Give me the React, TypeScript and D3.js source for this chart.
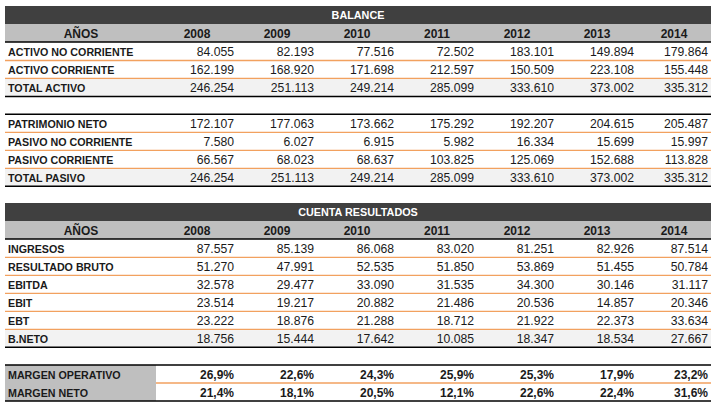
import React from "react";
import * as d3 from "d3";

const years = ["2008", "2009", "2010", "2011", "2012", "2013", "2014"];

const activoNoCorriente = [84055, 82193, 77516, 72502, 183101, 149894, 179864];
const activoCorriente = [162199, 168920, 171698, 212597, 150509, 223108, 155448];
const totalActivo = [246254, 251113, 249214, 285099, 333610, 373002, 335312];

const patrimonioNeto = [172107, 177063, 173662, 175292, 192207, 204615, 205487];
const pasivoNoCorriente = [7580, 6027, 6915, 5982, 16334, 15699, 15997];
const pasivoCorriente = [66567, 68023, 68637, 103825, 125069, 152688, 113828];
const totalPasivo = [246254, 251113, 249214, 285099, 333610, 373002, 335312];

const ingresos = [87557, 85139, 86068, 83020, 81251, 82926, 87514];
const resultadoBruto = [51270, 47991, 52535, 51850, 53869, 51455, 50784];
const ebitda = [32578, 29477, 33090, 31535, 34300, 30146, 31117];
const ebit = [23514, 19217, 20882, 21486, 20536, 14857, 20346];
const ebt = [23222, 18876, 21288, 18712, 21922, 22373, 33634];
const bNeto = [18756, 15444, 17642, 10085, 18347, 18534, 27667];

const margenOperativo = [0.269, 0.226, 0.243, 0.259, 0.253, 0.179, 0.232];
const margenNeto = [0.214, 0.181, 0.205, 0.121, 0.226, 0.224, 0.316];

const locale = d3.formatLocale({ decimal: ",", thousands: ".", grouping: [3], currency: ["", ""] });
const fmtNum = locale.format(",.0f");
const fmtPct = locale.format(".1%");

const W = 718, H = 407;
const L = 5, R = 711, LABEL_END = 157;
const ROW = 18;
const FONT = "'Liberation Sans', Arial, sans-serif";
const DARK = "#404040", GREY = "#bfbfbf", ORANGE = "#f2a15f", LIGHT = "#f2f2f2", TXT = "#1a1a1a";
const LABEL_FS = 10.7;

const x = d3.scaleBand<string>().domain(years).range([LABEL_END, LABEL_END + 80 * years.length]).padding(0);
const colLeft = (y: string) => x(y) as number;
const colRight = (y: string) => Math.min((x(y) as number) + x.bandwidth(), R);

type Row = { label: string; values: number[]; total?: boolean };

function TitleBand({ y, title }: { y: number; title: string }) {
  return (
    <g>
      <rect x={L} y={y} width={R - L} height={ROW} fill={DARK} />
      <text x={(L + R) / 2} y={y + 13} textAnchor="middle" fill="#fff" fontWeight="bold" fontSize={10.8}>{title}</text>
    </g>
  );
}

function HeaderRow({ y }: { y: number }) {
  return (
    <g>
      <rect x={L} y={y} width={R - L} height={ROW} fill={GREY} />
      <text x={(L + LABEL_END) / 2} y={y + 13.5} textAnchor="middle" fill={TXT} fontWeight="bold" fontSize={12}>AÑOS</text>
      {years.map((yr) => (
        <text key={yr} x={(colLeft(yr) + colRight(yr)) / 2} y={y + 13.5} textAnchor="middle" fill={TXT} fontWeight="bold" fontSize={12}>{yr}</text>
      ))}
      <line x1={L} x2={R} y1={y + ROW} y2={y + ROW} stroke="#000" strokeWidth={1.5} />
    </g>
  );
}

function Rows({ y0, rows, topLine }: { y0: number; rows: Row[]; topLine?: boolean }) {
  return (
    <g>
      {topLine && <line x1={L} x2={R} y1={y0} y2={y0} stroke="#000" strokeWidth={1.5} />}
      {rows.map((r, i) => {
        const y = y0 + i * ROW;
        const last = i === rows.length - 1;
        return (
          <g key={r.label}>
            {r.total && <rect x={L} y={y + 0.8} width={R - L} height={ROW - 0.8} fill={LIGHT} />}
            <text x={L + 3} y={y + 13.5} fill={TXT} fontWeight="bold" fontSize={LABEL_FS}>{r.label}</text>
            {years.map((yr, j) => (
              <text key={yr} x={colRight(yr) - 3} y={y + 13.5} textAnchor="end" fill={TXT} fontSize={12.2}>{fmtNum(r.values[j])}</text>
            ))}
            <line x1={L} x2={R} y1={y + ROW} y2={y + ROW} stroke={last ? "#000" : ORANGE} strokeWidth={last ? 1.5 : 1.3} />
          </g>
        );
      })}
    </g>
  );
}

export default function App() {
  const b1 = 6;
  const b1Rows: Row[] = [
    { label: "ACTIVO NO CORRIENTE", values: activoNoCorriente },
    { label: "ACTIVO CORRIENTE", values: activoCorriente },
    { label: "TOTAL ACTIVO", values: totalActivo, total: true },
  ];
  const b2Rows: Row[] = [
    { label: "PATRIMONIO NETO", values: patrimonioNeto },
    { label: "PASIVO NO CORRIENTE", values: pasivoNoCorriente },
    { label: "PASIVO CORRIENTE", values: pasivoCorriente },
    { label: "TOTAL PASIVO", values: totalPasivo, total: true },
  ];
  const cRows: Row[] = [
    { label: "INGRESOS", values: ingresos },
    { label: "RESULTADO BRUTO", values: resultadoBruto },
    { label: "EBITDA", values: ebitda },
    { label: "EBIT", values: ebit },
    { label: "EBT", values: ebt },
    { label: "B.NETO", values: bNeto, total: true },
  ];
  const margins = [
    { label: "MARGEN OPERATIVO", values: margenOperativo },
    { label: "MARGEN NETO", values: margenNeto },
  ];
  const c1 = 203;
  const m0 = 365;
  return (
    <svg width={W} height={H} style={{ position: "absolute", left: 0, top: 0, background: "#fff" }} fontFamily={FONT}>
      <rect width={W} height={H} fill="#fff" />
      <TitleBand y={b1} title="BALANCE" />
      <HeaderRow y={b1 + ROW} />
      <Rows y0={b1 + 2 * ROW + 0.5} rows={b1Rows} />
      <Rows y0={114.3} rows={b2Rows} topLine />
      <TitleBand y={c1} title="CUENTA RESULTADOS" />
      <HeaderRow y={c1 + ROW} />
      <Rows y0={c1 + 2 * ROW + 0.3} rows={cRows} />
      <g>
        {margins.map((r, i) => {
          const y = m0 + i * ROW;
          return (
            <g key={r.label}>
              <rect x={L} y={y} width={LABEL_END - 1 - L} height={ROW} fill={GREY} />
              <text x={L + 3} y={y + 13.5} fill={TXT} fontWeight="bold" fontSize={LABEL_FS}>{r.label}</text>
              {years.map((yr, j) => (
                <text key={yr} x={colRight(yr) - 3} y={y + 13.5} textAnchor="end" fill={TXT} fontWeight="bold" fontSize={12}>{fmtPct(r.values[j])}</text>
              ))}
            </g>
          );
        })}
        <line x1={LABEL_END - 1} x2={R} y1={m0 + ROW} y2={m0 + ROW} stroke={ORANGE} strokeWidth={1.3} />
        <line x1={L} x2={R} y1={m0} y2={m0} stroke="#000" strokeWidth={1.5} />
        <line x1={L} x2={R} y1={m0 + 2 * ROW} y2={m0 + 2 * ROW} stroke="#000" strokeWidth={1.5} />
      </g>
    </svg>
  );
}
